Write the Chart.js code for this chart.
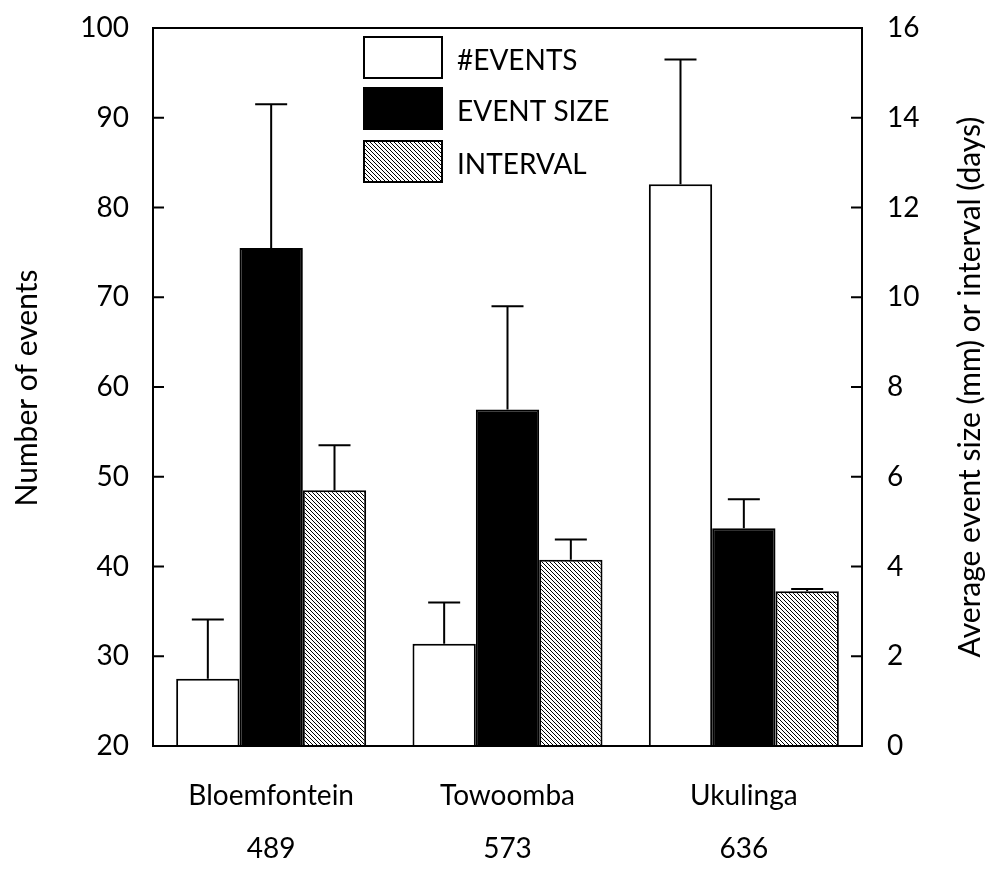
<!DOCTYPE html>
<html>
<head>
<meta charset="utf-8">
<script src="https://cdn.jsdelivr.net/npm/chart.js@4.4.0/dist/chart.umd.min.js"></script>
<style>
  html, body { margin: 0; padding: 0; background: #fff; }
  #wrap { width: 996px; height: 873px; }
</style>
</head>
<body>
<div id="wrap"><canvas id="chart" width="996" height="873"></canvas></div>
<script>
// values
const sites = ['Bloemfontein', 'Towoomba', 'Ukulinga'];
const rainfall = ['489', '573', '636'];
const numEvents = [27.5, 31.4, 82.6];      // left axis
const numEventsTop = [34.1, 36.0, 96.5];   // top of error bar
const eventSize = [11.1, 7.5, 4.85];       // right axis
const eventSizeTop = [14.3, 9.8, 5.5];
const interval = [5.7, 4.15, 3.45];        // right axis
const intervalTop = [6.7, 4.6, 3.5];
const leftTicks = [20, 30, 40, 50, 60, 70, 80, 90, 100];
const rightTicks = [0, 2, 4, 6, 8, 10, 12, 14, 16];

function hatch() {
    const c = document.createElement('canvas');
    c.width = 4; c.height = 4;
    const g = c.getContext('2d');
    g.fillStyle = '#fff';
    g.fillRect(0, 0, 4, 4);
    g.strokeStyle = '#000';
    g.lineWidth = 1;
    g.beginPath();
    g.moveTo(0, 0); g.lineTo(4, 4);
    g.moveTo(-1, 3); g.lineTo(1, 5);
    g.moveTo(3, -1); g.lineTo(5, 1);
    g.stroke();
    return g.createPattern(c, 'repeat');
}

// frame, inward tick marks, error bars, legend and axis titles
const extras = {
    id: 'extras',
    afterDatasetsDraw(chart) {
        const ctx = chart.ctx;
        const a = chart.chartArea;
        ctx.save();
        ctx.strokeStyle = '#000';
        ctx.lineWidth = 2;

        // error bars (upper only)
        const tops = [numEventsTop, eventSizeTop, intervalTop];
        chart.data.datasets.forEach(function (ds, i) {
            const meta = chart.getDatasetMeta(i);
            const scale = chart.scales[ds.yAxisID];
            meta.data.forEach(function (bar, j) {
                const yE = scale.getPixelForValue(tops[i][j]);
                ctx.beginPath();
                ctx.moveTo(bar.x, bar.y);
                ctx.lineTo(bar.x, yE);
                ctx.moveTo(bar.x - 16, yE);
                ctx.lineTo(bar.x + 16, yE);
                ctx.stroke();
            });
        });

        // box
        ctx.strokeRect(a.left, a.top, a.right - a.left, a.bottom - a.top);

        // ticks pointing inward
        ctx.beginPath();
        leftTicks.forEach(function (v) {
            const y = chart.scales.y.getPixelForValue(v);
            ctx.moveTo(a.left, y); ctx.lineTo(a.left + 11, y);
        });
        rightTicks.forEach(function (v) {
            const y = chart.scales.y1.getPixelForValue(v);
            ctx.moveTo(a.right, y); ctx.lineTo(a.right - 11, y);
        });
        ctx.stroke();

        // legend
        const boxY = [37, 88, 141];
        ctx.font = '28px Lato';
        ctx.textBaseline = 'middle';
        ctx.textAlign = 'left';
        chart.data.datasets.forEach(function (ds, i) {
            ctx.fillStyle = ds.backgroundColor;
            ctx.fillRect(364, boxY[i], 78, 41);
            ctx.strokeRect(364, boxY[i], 78, 41);
            ctx.fillStyle = '#000';
            ctx.fillText(ds.label, 457, boxY[i] + 24);
        });

        // axis titles, both reading bottom to top
        ctx.font = '30px Lato';
        ctx.textAlign = 'center';
        ctx.fillStyle = '#000';
        ctx.save();
        ctx.translate(27, 388);
        ctx.rotate(-Math.PI / 2);
        ctx.fillText('Number of events', 0, 0);
        ctx.restore();
        ctx.save();
        ctx.translate(970, 387);
        ctx.rotate(-Math.PI / 2);
        ctx.fillText('Average event size (mm) or interval (days)', 0, 0);
        ctx.restore();

        ctx.restore();
    }
};

function fixSide(w) {
    return function (s) {
        s.width = w;
        s.paddingTop = 0;
        s.paddingBottom = 0;
    };
}

function draw() {
    Chart.defaults.font.family = 'Lato';
    Chart.defaults.color = '#000';

    new Chart(document.getElementById('chart'), {
        type: 'bar',
        data: {
            labels: sites.map(function (s, i) { return [s, rainfall[i]]; }),
            datasets: [
                { label: '#EVENTS', data: numEvents, yAxisID: 'y', backgroundColor: '#fff' },
                { label: 'EVENT SIZE', data: eventSize, yAxisID: 'y1', backgroundColor: '#000' },
                { label: 'INTERVAL', data: interval, yAxisID: 'y1', backgroundColor: hatch() }
            ]
        },
        options: {
            responsive: false,
            animation: false,
            devicePixelRatio: 1,
            layout: { padding: { top: 28 } },
            datasets: {
                bar: {
                    borderColor: '#000',
                    borderWidth: 2,
                    categoryPercentage: 0.804,
                    barPercentage: 1.0
                }
            },
            plugins: {
                legend: { display: false },
                tooltip: { enabled: false }
            },
            scales: {
                x: {
                    grid: { display: false, drawTicks: false },
                    border: { display: false },
                    ticks: { font: { size: 28, lineHeight: 1.9 }, padding: 23 },
                    afterFit: function (s) {
                        s.height = 127;
                        s.paddingLeft = 0;
                        s.paddingRight = 0;
                    }
                },
                y: {
                    position: 'left',
                    min: 20, max: 100,
                    grid: { display: false, drawTicks: false },
                    border: { display: false },
                    ticks: { stepSize: 10, font: { size: 28 }, padding: 24 },
                    afterFit: fixSide(153)
                },
                y1: {
                    position: 'right',
                    min: 0, max: 16,
                    grid: { display: false, drawTicks: false },
                    border: { display: false },
                    ticks: { stepSize: 2, font: { size: 28 }, padding: 25 },
                    afterFit: fixSide(134)
                }
            }
        },
        plugins: [extras]
    });
}

document.fonts.load('28px Lato').then(draw, draw);
</script>
</body>
</html>
